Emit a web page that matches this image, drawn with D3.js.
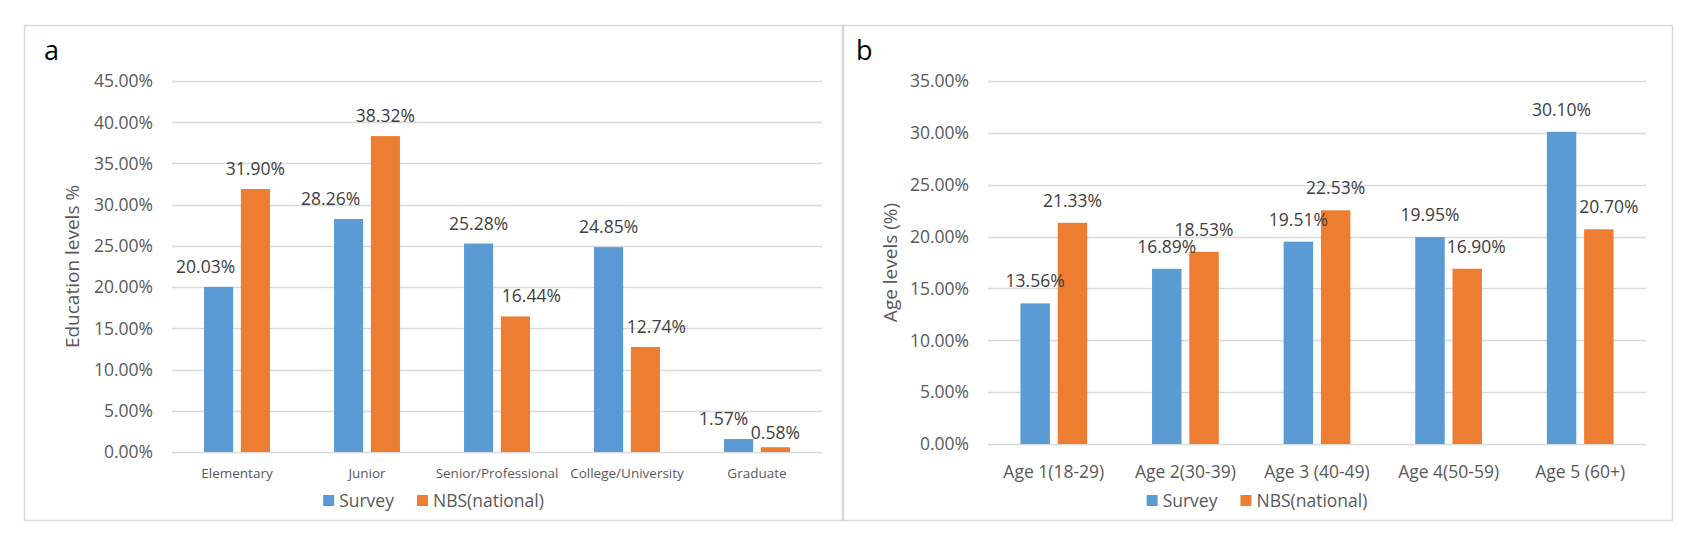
<!DOCTYPE html>
<html>
<head>
<meta charset="utf-8">
<script src="https://cdn.jsdelivr.net/npm/d3@7"></script>
<style>
  body { margin: 0; background: #fff; }
  svg { display: block; font-family: "Open Sans", sans-serif; }
</style>
</head>
<body>
<script>
// series shared by both panels
const seriesNames = ["Survey", "NBS(national)"];
const seriesColors = ["#5B9BD5", "#ED7D31"];

// panel a - education
const eduCategories = ["Elementary", "Junior", "Senior/Professional", "College/University", "Graduate"];
const eduSurvey = [20.03, 28.26, 25.28, 24.85, 1.57];
const eduNBS = [31.90, 38.32, 16.44, 12.74, 0.58];
const eduTicks = [0, 5, 10, 15, 20, 25, 30, 35, 40, 45];

// panel b - age
const ageCategories = ["Age 1(18-29)", "Age 2(30-39)", "Age 3 (40-49)", "Age 4(50-59)", "Age 5 (60+)"];
const ageSurvey = [13.56, 16.89, 19.51, 19.95, 30.10];
const ageNBS = [21.33, 18.53, 22.53, 16.90, 20.70];
const ageTicks = [0, 5, 10, 15, 20, 25, 30, 35];

// label nudges as they sit in the original (dx, dy) per series
const eduNudge = [
  [[-13, 0], [-18, 0], [0, 0], [0, 0], [-15, 0]],
  [[0, 0], [0, 0], [16, 0], [11, 0], [0, 6]]
];
const ageNudge = [
  [[0, 0], [0, 0], [0, 0], [0, 0], [0, 0]],
  [[0, 0], [0, 0], [0, 0], [9, 0], [10, 0]]
];

const width = 1700, height = 543;

const svg = d3.select("body").append("svg")
    .attr("width", width)
    .attr("height", height);

function drawPanel(p) {
  const g = svg.append("g");

  // panel frame
  g.append("rect")
      .attr("x", p.box[0] + 0.5)
      .attr("y", p.box[1] + 0.5)
      .attr("width", p.box[2] - p.box[0])
      .attr("height", p.box[3] - p.box[1])
      .attr("fill", "none")
      .attr("stroke", "#d9d9d9")
      .attr("stroke-width", 1.5);

  g.append("text")
      .attr("x", p.letterX)
      .attr("y", 60)
      .attr("font-size", 27)
      .attr("fill", "#000")
      .text(p.letter);

  const x0 = d3.scaleBand()
      .domain(p.categories)
      .range([p.left, p.right]);

  const x1 = d3.scaleBand()
      .domain(seriesNames)
      .range([0, x0.bandwidth()])
      .paddingInner(0.21)
      .paddingOuter(0.87);

  const y = d3.scaleLinear()
      .domain([0, d3.max(p.ticks)])
      .range([p.bottom, p.top]);

  // gridlines
  g.append("g")
    .selectAll("line")
    .data(p.ticks)
    .join("line")
      .attr("x1", p.left)
      .attr("x2", p.right)
      .attr("y1", d => Math.round(y(d)) + 0.5)
      .attr("y2", d => Math.round(y(d)) + 0.5)
      .attr("stroke", "#d9d9d9")
      .attr("stroke-width", 1.5);

  // y tick labels
  g.append("g")
    .selectAll("text")
    .data(p.ticks)
    .join("text")
      .attr("x", p.left - 19)
      .attr("y", d => y(d))
      .attr("dy", "0.36em")
      .attr("text-anchor", "end")
      .attr("font-size", p.tickSize)
      .attr("fill", "#595959")
      .text(d => d3.format(".2f")(d) + "%");

  // y title
  g.append("text")
      .attr("transform", `translate(${p.box[0] + 48},${(p.top + p.bottom) / 2}) rotate(-90)`)
      .attr("dy", "0.35em")
      .attr("text-anchor", "middle")
      .attr("font-size", p.titleSize)
      .attr("fill", "#595959")
      .text(p.yTitle);

  // bars
  const rows = [];
  p.values.forEach((vals, s) => {
    vals.forEach((v, i) => rows.push({ s, i, v, cat: p.categories[i], name: seriesNames[s] }));
  });

  g.append("g")
    .selectAll("rect")
    .data(rows)
    .join("rect")
      .attr("x", d => x0(d.cat) + x1(d.name))
      .attr("y", d => y(d.v))
      .attr("width", x1.bandwidth())
      .attr("height", d => y(0) - y(d.v))
      .attr("fill", d => seriesColors[d.s]);

  // value labels
  g.append("g")
    .selectAll("text")
    .data(rows)
    .join("text")
      .attr("x", d => x0(d.cat) + x1(d.name) + x1.bandwidth() / 2 + p.nudge[d.s][d.i][0])
      .attr("y", d => y(d.v) - p.labelGap + p.nudge[d.s][d.i][1])
      .attr("text-anchor", "middle")
      .attr("font-size", p.valueSize)
      .attr("fill", "#404040")
      .text(d => d.v.toFixed(2) + "%");

  // category labels
  g.append("g")
    .selectAll("text")
    .data(p.categories)
    .join("text")
      .attr("x", d => x0(d) + x0.bandwidth() / 2)
      .attr("y", 478)
      .attr("text-anchor", "middle")
      .attr("font-size", p.catSize)
      .attr("fill", "#595959")
      .text(d => d);

  // legend, centred on the panel frame
  const legend = g.append("g");
  let lx = 0;
  seriesNames.forEach((name, s) => {
    legend.append("rect")
        .attr("x", lx)
        .attr("y", 495)
        .attr("width", 11)
        .attr("height", 11)
        .attr("fill", seriesColors[s]);
    const t = legend.append("text")
        .attr("x", lx + 16)
        .attr("y", 507)
        .attr("font-size", p.legendSize)
        .attr("fill", "#595959")
        .text(name);
    lx += 16 + t.node().getComputedTextLength() + 23;
  });
  const legendW = lx - 23;
  legend.attr("transform", `translate(${(p.box[0] + p.box[2]) / 2 - legendW / 2},0)`);
}

drawPanel({
  box: [24, 25, 843, 520],
  letter: "a", letterX: 44,
  categories: eduCategories,
  values: [eduSurvey, eduNBS],
  ticks: eduTicks,
  nudge: eduNudge,
  yTitle: "Education levels %",
  left: 172, right: 822, top: 81, bottom: 452,
  tickSize: 17.5, valueSize: 17.5, catSize: 13.5, legendSize: 17.5, titleSize: 19,
  labelGap: 14
});

drawPanel({
  box: [842, 25, 1672, 520],
  letter: "b", letterX: 856,
  categories: ageCategories,
  values: [ageSurvey, ageNBS],
  ticks: ageTicks,
  nudge: ageNudge,
  yTitle: "Age levels (%)",
  left: 988, right: 1646, top: 81, bottom: 444,
  tickSize: 17.5, valueSize: 17.5, catSize: 17.5, legendSize: 17.5, titleSize: 19,
  labelGap: 16
});
</script>
</body>
</html>
